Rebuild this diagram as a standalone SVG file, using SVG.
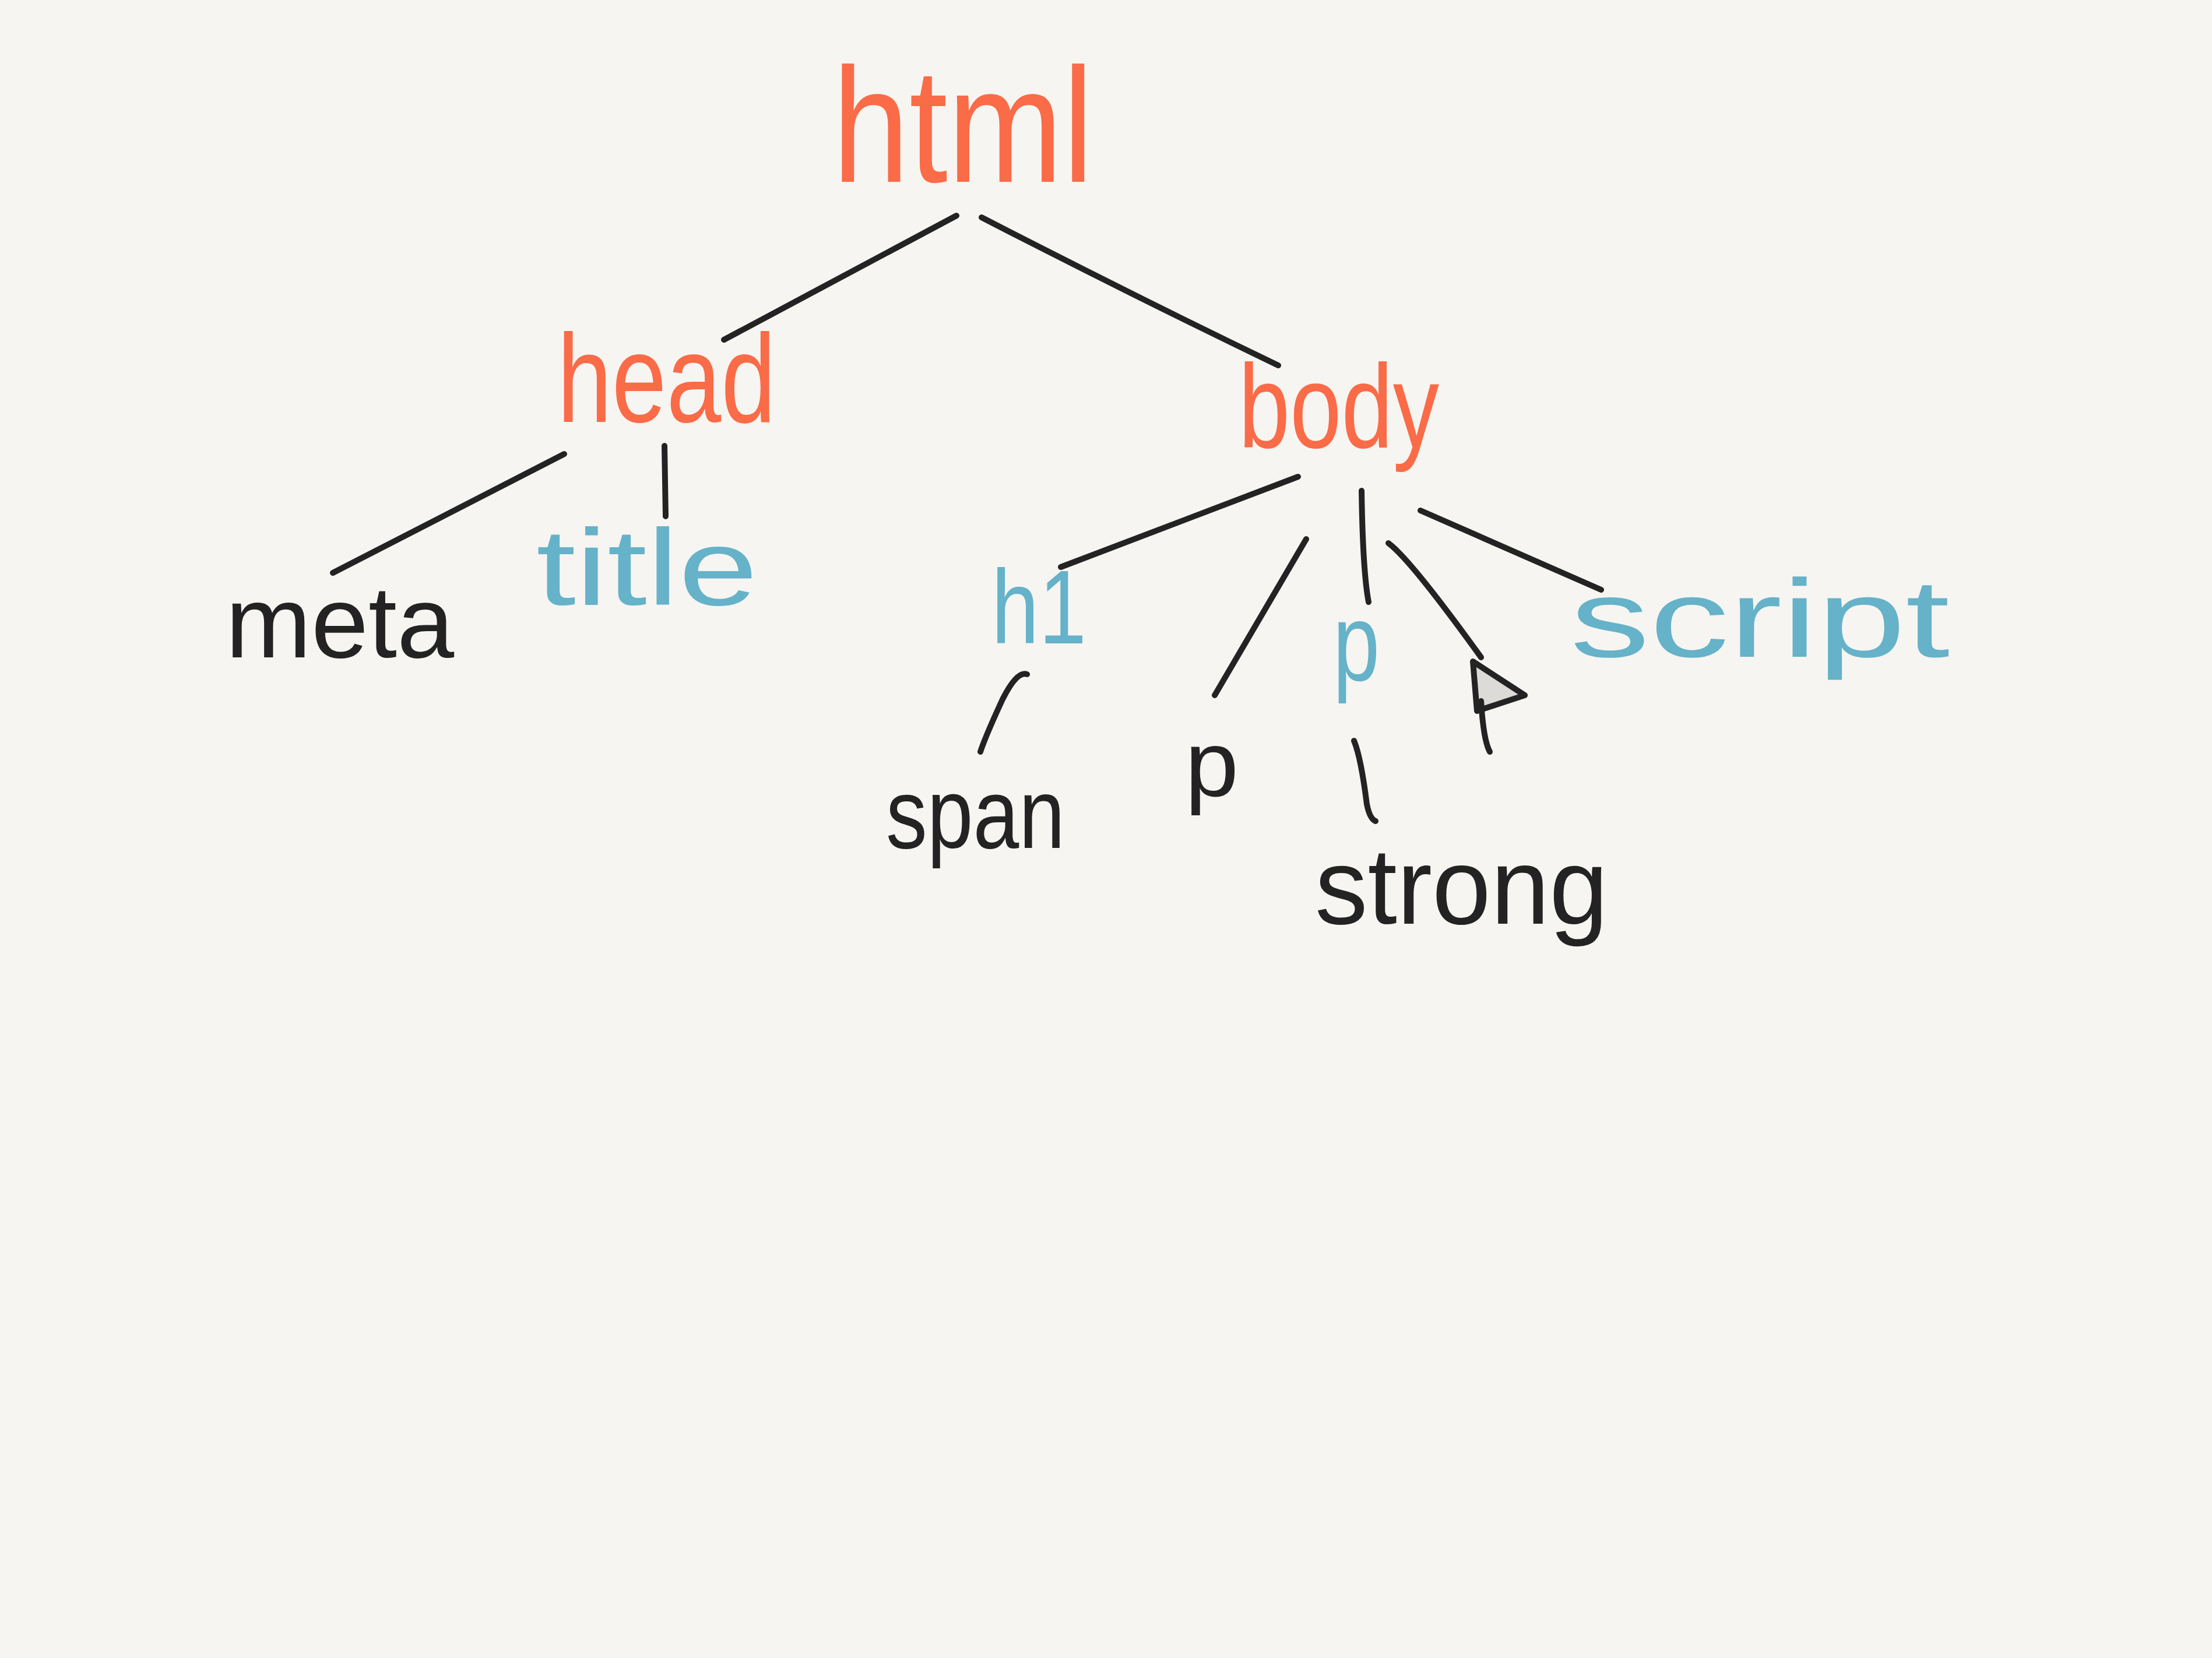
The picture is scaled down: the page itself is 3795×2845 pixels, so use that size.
<svg xmlns="http://www.w3.org/2000/svg" width="3795" height="2845" viewBox="0 0 3795 2845">
<style>
.bg{fill:#F6F5F1}
.t{font-family:"Liberation Sans","DejaVu Sans",sans-serif;font-weight:normal}
.or{fill:#FA6B48}
.bl{fill:#65B2C9}
.bk{fill:#232323}
.c{stroke:#232323;stroke-width:10;stroke-linecap:round;fill:none}
</style>
<rect class="bg" x="0" y="0" width="3795" height="2845"/>
<g id="connectors">
<path class="c" d="M1641,370 L1242,583"/>
<path class="c" d="M1684,373 Q1930,500 2193,627"/>
<path class="c" d="M968,779 L571,983"/>
<path class="c" d="M1140,765 L1142,886"/>
<path class="c" d="M2227,818 L1820,973"/>
<path class="c" d="M2241,925 L2084,1193"/>
<path class="c" d="M2336,842 Q2338,980 2348,1033"/>
<path class="c" d="M2382,932 Q2420,960 2541,1128"/>
<path class="c" d="M2437,876 L2747,1012"/>
<path class="c" d="M1762,1157 Q1745,1150 1720,1200 Q1690,1265 1682,1290"/>
<path class="c" d="M2323,1271 Q2335,1300 2345,1380 Q2350,1405 2360,1409"/>
</g>
<g id="node-html"><text class="t or" x="1428" y="312" font-size="280" textLength="448" lengthAdjust="spacingAndGlyphs">html</text></g>
<g id="node-head"><text class="t or" x="956" y="724" font-size="215" textLength="375" lengthAdjust="spacingAndGlyphs">head</text></g>
<g id="node-body"><text class="t or" x="2125" y="768" font-size="205" textLength="344" lengthAdjust="spacingAndGlyphs">body</text></g>
<g id="node-meta"><text class="t bk" x="387" y="1128" font-size="175" textLength="392" lengthAdjust="spacingAndGlyphs">meta</text></g>
<g id="node-title"><text class="t bl" x="920" y="1038" font-size="185" textLength="380" lengthAdjust="spacingAndGlyphs">title</text></g>
<g id="node-h1"><text class="t bl" x="1701" y="1104" font-size="180" textLength="163" lengthAdjust="spacingAndGlyphs">h1</text></g>
<g id="node-span"><text class="t bk" x="1520" y="1455" font-size="170" textLength="307" lengthAdjust="spacingAndGlyphs">span</text></g>
<g id="node-p1"><text class="t bk" x="2033" y="1366" font-size="160" textLength="92" lengthAdjust="spacingAndGlyphs">p</text></g>
<g id="node-p2"><text class="t bl" x="2287" y="1168" font-size="190" textLength="80" lengthAdjust="spacingAndGlyphs">p</text></g>
<g id="node-strong"><text class="t bk" x="2256" y="1585" font-size="185" textLength="503" lengthAdjust="spacingAndGlyphs">strong</text></g>
<g id="node-flag">
<polygon points="2527,1135 2616,1193 2534,1220" fill="#DCDBD8" stroke="#232323" stroke-width="10" stroke-linejoin="round"/>
<path class="c" d="M2541,1203 Q2545,1270 2556,1290"/>
</g>
<g id="node-script"><text class="t bl" x="2694" y="1127" font-size="190" textLength="651" lengthAdjust="spacingAndGlyphs">script</text></g>
</svg>
